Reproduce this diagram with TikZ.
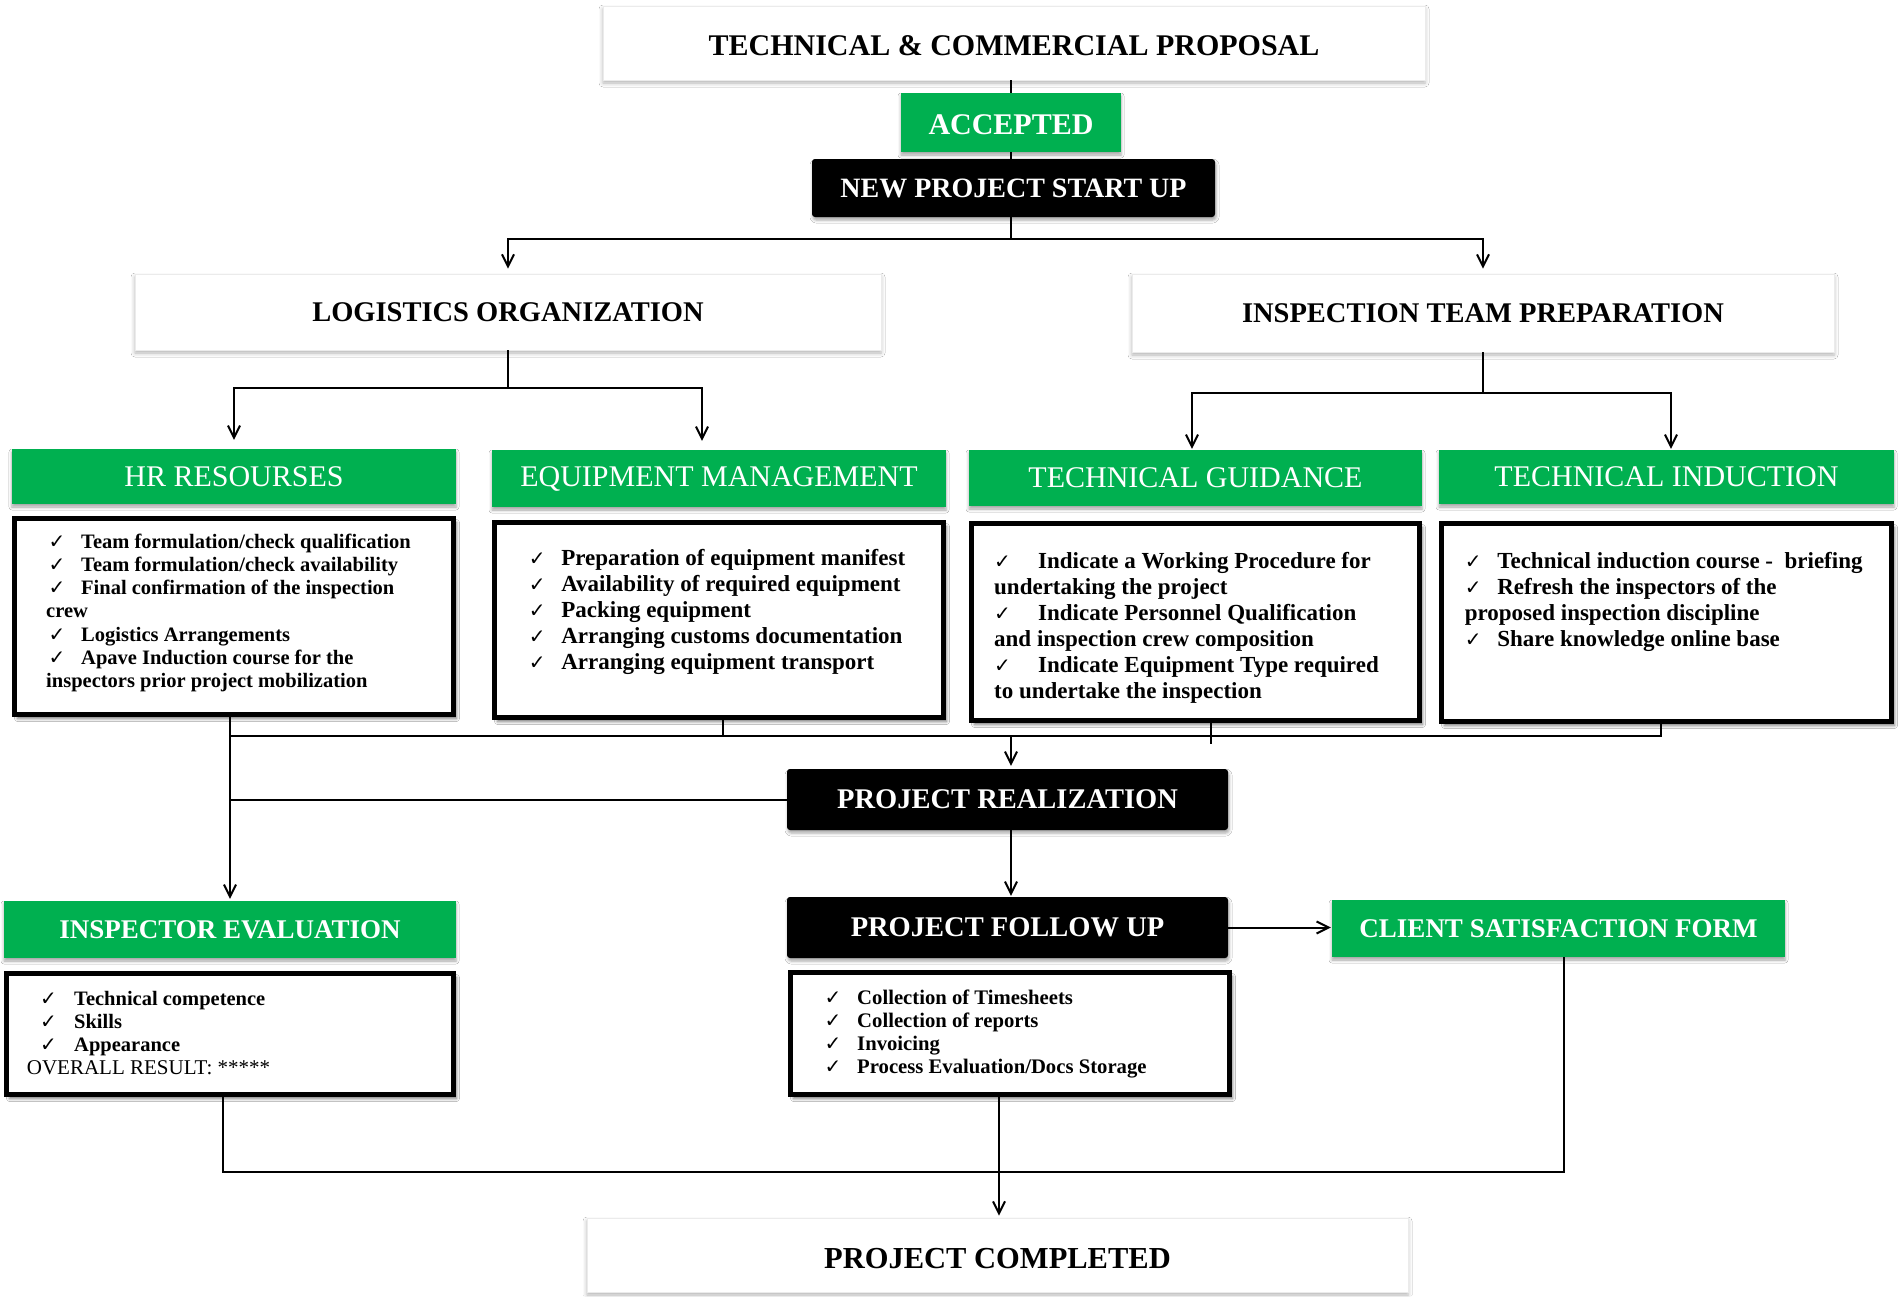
\documentclass[tikz,border=0pt]{standalone}
\usepackage{fontspec}
\setmainfont{Liberation Serif}
\newfontfamily\symfont{DejaVu Sans}
\usetikzlibrary{arrows.meta,shadows.blur,calc}

\definecolor{cgreen}{RGB}{0,176,80}

% check-mark list helpers
\newlength\ckgap
\newcommand\ck{{\symfont\fontsize{20}{20}\selectfont ✓}}
\newcommand\ckl[1]{\makebox[\ckgap][l]{\ck}#1}
% lower a title inside its box without changing the box size
\newcommand\lowered[2]{\raisebox{-#1}[\height][\depth]{#2}}

\begin{document}
\begin{tikzpicture}[x=1pt,y=-1pt,
  whitebox/.style={draw=black!8, line width=0.8pt, fill=white, inner sep=0pt,
    blur shadow={shadow xshift=0pt, shadow yshift=-3pt, shadow blur radius=4pt, shadow opacity=30},
    font=\fontsize{28.5}{34}\selectfont\bfseries},
  greenhead/.style={fill=cgreen, text=white, inner sep=0pt,
    blur shadow={shadow xshift=0pt, shadow yshift=-3pt, shadow blur radius=3pt, shadow opacity=35},
    font=\fontsize{30}{36}\selectfont},
  greenbold/.style={greenhead, font=\fontsize{27}{32}\selectfont\bfseries},
  blackbox/.style={fill=black, text=white, rounded corners=3pt, inner sep=0pt,
    blur shadow={shadow xshift=1pt, shadow yshift=-3pt, shadow blur radius=3pt, shadow opacity=35},
    font=\fontsize{28.5}{34}\selectfont\bfseries},
  listbox/.style={draw=black, line width=5pt, fill=white, inner sep=0pt,
    blur shadow={shadow xshift=3pt, shadow yshift=-4pt, shadow blur radius=3pt, shadow opacity=55}},
  listtext/.style={anchor=base west, inner sep=0pt, align=left},
  conn/.style={line width=2pt},
  arr/.style={conn, -{Straight Barb[length=12pt,width=12pt]}},
]
\useasboundingbox[fill=white] (0,0) rectangle (1901,1296);

% ---- top of the flow ----
\node[whitebox, minimum width=822pt, minimum height=74pt, font=\fontsize{30}{36}\selectfont\bfseries]
  (proposal) at (1014,43) {\lowered{3pt}{TECHNICAL \& COMMERCIAL PROPOSAL}};
\node[greenhead, minimum width=220pt, minimum height=59pt, font=\fontsize{30}{36}\selectfont\bfseries]
  (accepted) at (1011,122.5) {\lowered{2pt}{ACCEPTED}};
\node[blackbox, minimum width=403pt, minimum height=58pt, font=\fontsize{28}{34}\selectfont\bfseries]
  (newproj) at (1013.5,188) {NEW PROJECT START UP};

\node[whitebox, minimum width=746pt, minimum height=76pt] (logistics) at (508,312) {LOGISTICS ORGANIZATION};
\node[whitebox, minimum width=702pt, minimum height=78pt] (inspteam) at (1483,313) {INSPECTION TEAM PREPARATION};

% ---- green headers ----
\node[greenhead, minimum width=444pt, minimum height=55pt] (hrhead) at (234,476.5) {HR RESOURSES};
\node[greenhead, minimum width=454pt, minimum height=57pt] (eqhead) at (719,478.5) {EQUIPMENT MANAGEMENT};
\node[greenhead, minimum width=453pt, minimum height=56pt] (tghead) at (1195.5,478) {TECHNICAL GUIDANCE};
\node[greenhead, minimum width=455pt, minimum height=54pt] (tihead) at (1666.5,477) {TECHNICAL INDUCTION};

% ---- detail boxes ----
\node[listbox, minimum width=439pt, minimum height=196pt] (hrbox) at (234,616.5) {};
\node[listbox, minimum width=449pt, minimum height=195pt] (eqbox) at (719,620) {};
\node[listbox, minimum width=448pt, minimum height=197pt] (tgbox) at (1195.5,622) {};
\node[listbox, minimum width=450pt, minimum height=198pt] (tibox) at (1666.5,622.5) {};

\node[listtext, font=\fontsize{20.5}{23.3}\selectfont\bfseries] (hrtext) at (48.5,548) {\setlength\ckgap{32.5pt}%
  \begin{tabular}[t]{@{}l@{}}
  \ckl{Team formulation/check qualification}\\
  \ckl{Team formulation/check availability}\\
  \ckl{Final confirmation of the inspection}\\
  \hspace*{-2.5pt}crew\\
  \ckl{Logistics Arrangements}\\
  \ckl{Apave Induction course for the}\\
  \hspace*{-2.5pt}inspectors prior project mobilization
  \end{tabular}};

\node[listtext, font=\fontsize{23}{26}\selectfont\bfseries] (eqtext) at (528.6,565) {\setlength\ckgap{32.5pt}%
  \begin{tabular}[t]{@{}l@{}}
  \ckl{Preparation of equipment manifest}\\
  \ckl{Availability of required equipment}\\
  \ckl{Packing equipment}\\
  \ckl{Arranging customs documentation}\\
  \ckl{Arranging equipment transport}
  \end{tabular}};

\node[listtext, font=\fontsize{23}{26}\selectfont\bfseries] (tgtext) at (994,568) {\setlength\ckgap{44pt}%
  \begin{tabular}[t]{@{}l@{}}
  \ckl{Indicate a Working Procedure for}\\
  undertaking the project\\
  \ckl{Indicate Personnel Qualification}\\
  and inspection crew composition\\
  \ckl{Indicate Equipment Type required}\\
  to undertake the inspection
  \end{tabular}};

\node[listtext, font=\fontsize{23}{26}\selectfont\bfseries] (titext) at (1464.6,568) {\setlength\ckgap{32.5pt}%
  \begin{tabular}[t]{@{}l@{}}
  \ckl{Technical induction course - \ briefing}\\
  \ckl{Refresh the inspectors of the}\\
  proposed inspection discipline\\
  \ckl{Share knowledge online base}
  \end{tabular}};

% ---- middle column ----
\node[blackbox, minimum width=441pt, minimum height=61pt] (realization) at (1007.5,799.5) {PROJECT REALIZATION};
\node[blackbox, minimum width=441pt, minimum height=61pt] (followup) at (1007.5,927.5) {PROJECT FOLLOW UP};
\node[listbox, minimum width=439pt, minimum height=122pt] (fubox) at (1010,1033.5) {};
\node[listtext, font=\fontsize{20.7}{23}\selectfont\bfseries] (futext) at (824.4,1004) {\setlength\ckgap{32.6pt}%
  \begin{tabular}[t]{@{}l@{}}
  \ckl{Collection of Timesheets}\\
  \ckl{Collection of reports}\\
  \ckl{Invoicing}\\
  \ckl{Process Evaluation/Docs Storage}
  \end{tabular}};

\node[greenbold, minimum width=453pt, minimum height=57pt] (client) at (1558.5,928.5) {CLIENT SATISFACTION FORM};

% ---- inspector evaluation ----
\node[greenbold, minimum width=452pt, minimum height=57pt] (iehead) at (230,929.5) {INSPECTOR EVALUATION};
\node[listbox, minimum width=447pt, minimum height=121pt] (iebox) at (230,1034) {};
\node[listtext, font=\fontsize{20.5}{23}\selectfont\bfseries] (ietext) at (40,1005) {\setlength\ckgap{34pt}%
  \begin{tabular}[t]{@{}l@{}}
  \ckl{Technical competence}\\
  \ckl{Skills}\\
  \ckl{Appearance}\\
  \hspace*{-13.3pt}{\mdseries\fontsize{21}{23}\selectfont OVERALL RESULT: *****}
  \end{tabular}};

% ---- end ----
\node[whitebox, minimum width=821pt, minimum height=74pt, font=\fontsize{30.5}{36}\selectfont\bfseries]
  (completed) at (997.5,1255) {\lowered{4pt}{PROJECT COMPLETED}};

% ---- connectors ----
\draw[conn] (proposal.south -| accepted) -- (accepted.north);
\draw[conn] (accepted.south) -- (accepted.south |- newproj.north);
\coordinate (split1) at (1011,239);
\draw[conn] (accepted.south |- newproj.south) -- (split1);
\draw[arr, shorten >=5pt] (split1) -| (logistics.north);
\draw[arr, shorten >=5pt] (split1) -| (inspteam.north);

\coordinate (split2) at ($(logistics.south)+(0,38)$);
\coordinate (eqin) at ([xshift=-17pt]eqhead.north);
\draw[conn] (logistics.south) -- (split2);
\draw[arr, shorten >=9pt] (split2) -| (hrhead.north);
\draw[arr, shorten >=9pt] (split2) -| (eqin);

\coordinate (split3) at ($(inspteam.south)+(0,41)$);
\coordinate (tgin) at ([xshift=-3.5pt]tghead.north);
\coordinate (tiin) at ([xshift=4.5pt]tihead.north);
\draw[conn] (inspteam.south) -- (split3);
\draw[arr, shorten >=1pt] (split3) -| (tgin);
\draw[arr, shorten >=1pt] (split3) -| (tiin);

% collecting bus under the four detail boxes
\coordinate (tiout) at ([xshift=-5.5pt]tibox.south);
\coordinate (busR) at ($(tiout)+(0,12)$);
\coordinate (hrout) at (iehead.north |- hrbox.south);
\draw[conn] (hrout) -- (hrout |- busR) -- (busR) -- (tiout);
\coordinate (eqout) at ([xshift=4pt]eqbox.south);
\draw[conn] (eqout) -- (eqout |- busR);
\coordinate (tgout) at ([xshift=15.5pt]tgbox.south);
\draw[conn] (tgout) -- ++(0,21);
\coordinate (realin) at ([xshift=3.5pt]realization.north);
\draw[arr, shorten >=3pt] (realin |- busR) -- (realin);

\draw[arr, shorten >=2pt] (hrout) -- (iehead.north);
\draw[conn] (realization.west) -- (realization.west -| hrout);

\coordinate (realout) at ([xshift=3.5pt]realization.south);
\draw[arr, shorten >=1pt] (realout) -- (realout |- followup.north);
\draw[arr, shorten >=1pt] (followup.east) -- (followup.east -| client.west);

% closing loop into the final box
\coordinate (ieout) at ([xshift=-7pt]iebox.south);
\coordinate (csout) at ([xshift=5.5pt]client.south);
\draw[conn] (ieout) |- (csout |- 0,1172) -- (csout);
\coordinate (fuout) at ([xshift=-11pt]fubox.south);
\draw[arr, shorten >=2pt] (fuout) -- (fuout |- completed.north);

\end{tikzpicture}
\end{document}
